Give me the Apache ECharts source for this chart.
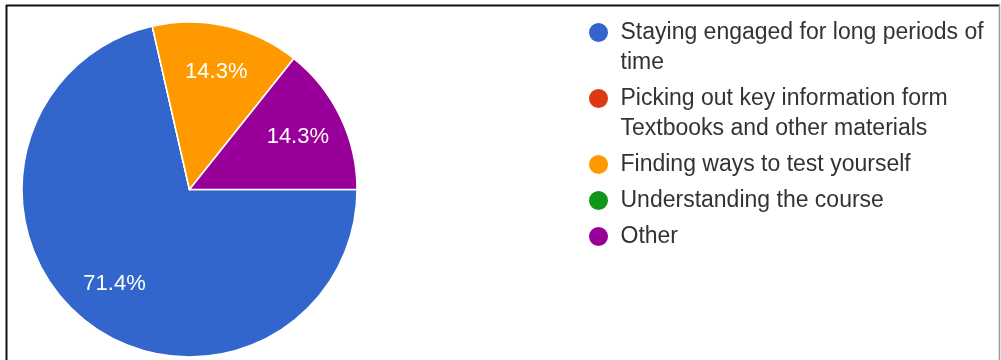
<!DOCTYPE html>
<html>
<head>
<meta charset="utf-8">
<script src="https://cdn.jsdelivr.net/npm/echarts@6/dist/echarts.min.js"></script>
<style>
  html, body { margin: 0; padding: 0; background: #fff; }
  #chart { width: 1001px; height: 360px; }
</style>
</head>
<body>
<div id="chart"></div>
<script>
// Survey answers: how many respondents picked each option
const categories = [
  'Staying engaged for long periods of time',
  'Picking out key information form Textbooks and other materials',
  'Finding ways to test yourself',
  'Understanding the course',
  'Other'
];
const responses = [5, 0, 1, 0, 1];
const sliceColors = ['#3366cc', '#dc3912', '#ff9900', '#109618', '#990099'];
// Number of text lines each legend entry wraps onto
const legendLineCount = [2, 2, 1, 1, 1];

const FONT = '"Liberation Sans", Arial, sans-serif';
const R = 167.5;
const CENTER = [189.5, 189.5];

// Legend layout
const LEGEND_LEFT = 587;
const FIRST_MARKER_Y = 32.5;
const LINE_H = 30;
const ENTRY_GAP = 6;

const pieData = categories.map((name, i) => ({
  name,
  value: responses[i],
  itemStyle: { color: sliceColors[i] }
}));

// One legend block per entry so that wrapped entries keep their marker
// beside the first line; a leading blank line centres line one on the marker.
let markerY = FIRST_MARKER_Y;
const legends = categories.map((name, i) => {
  const lines = legendLineCount[i];
  const top = lines > 1 ? markerY - 1.5 * LINE_H : markerY - 0.5 * LINE_H;
  markerY += lines * LINE_H + ENTRY_GAP;
  return {
    orient: 'vertical',
    left: LEGEND_LEFT,
    top,
    padding: 0,
    itemWidth: 34,
    itemHeight: 21,
    icon: 'circle',
    selectedMode: false,
    formatter: n => (lines > 1 ? '\n' + n : n),
    textStyle: {
      fontFamily: FONT,
      fontSize: 23,
      color: '#333',
      lineHeight: LINE_H,
      width: 385,
      overflow: 'break'
    },
    data: [{ name, itemStyle: { color: sliceColors[i] } }]
  };
});

const chart = echarts.init(document.getElementById('chart'), null, { renderer: 'canvas' });

chart.setOption({
  backgroundColor: '#fff',
  animation: false,
  legend: legends,
  graphic: [
    { type: 'line', shape: { x1: 6, y1: 5.5, x2: 1000, y2: 5.5 }, style: { stroke: '#111', lineWidth: 2 }, silent: true },
    { type: 'line', shape: { x1: 6.5, y1: 5, x2: 6.5, y2: 360 }, style: { stroke: '#111', lineWidth: 2 }, silent: true },
    { type: 'line', shape: { x1: 999.5, y1: 5, x2: 999.5, y2: 360 }, style: { stroke: '#999', lineWidth: 1.5 }, silent: true }
  ],
  series: [
    {
      type: 'pie',
      center: CENTER,
      radius: R,
      startAngle: 0,
      clockwise: true,
      silent: true,
      label: { show: false },
      labelLine: { show: false },
      itemStyle: { borderColor: '#fff', borderWidth: 1.5 },
      emphasis: { disabled: true },
      data: pieData
    },
    {
      // percentage labels drawn over the slices
      type: 'pie',
      center: CENTER,
      radius: [R * 0.4, R],
      startAngle: 0,
      clockwise: true,
      silent: true,
      itemStyle: { color: 'rgba(0,0,0,0)' },
      emphasis: { disabled: true },
      labelLine: { show: false },
      label: {
        show: true,
        position: 'inside',
        color: '#fff',
        fontFamily: FONT,
        fontSize: 22,
        formatter: p => (p.value ? p.percent.toFixed(1) + '%' : '')
      },
      data: categories.map((name, i) => ({ name, value: responses[i] }))
    }
  ]
});
</script>
</body>
</html>
